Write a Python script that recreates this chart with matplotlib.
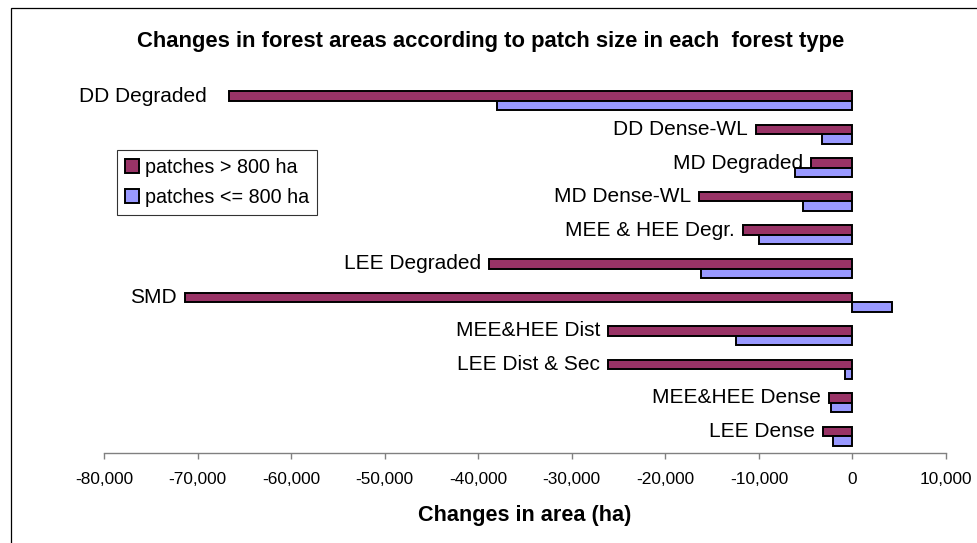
import matplotlib
matplotlib.use("Agg")
import matplotlib.pyplot as plt
import numpy as np
from matplotlib.patches import Rectangle
from matplotlib.ticker import FuncFormatter

categories = ["DD Degraded", "DD Dense-WL", "MD Degraded", "MD Dense-WL",
              "MEE & HEE Degr.", "LEE Degraded", "SMD", "MEE&HEE Dist",
              "LEE Dist & Sec", "MEE&HEE Dense", "LEE Dense"]
large_patches = [-66600, -10300, -4400, -16400, -11700, -38800, -71300,
                 -26100, -26100, -2500, -3100]
small_patches = [-38000, -3250, -6150, -5300, -10000, -16200, 4270,
                 -12400, -750, -2300, -2100]
series_names = ["patches > 800 ha", "patches <= 800 ha"]
x_ticks = [-80000, -70000, -60000, -50000, -40000, -30000, -20000, -10000, 0, 10000]

plt.rcParams['font.family'] = ['Liberation Sans', 'DejaVu Sans']

W, H = 977, 543
fig = plt.figure(figsize=(W / 100, H / 100), dpi=100)
fig.patch.set_facecolor("white")

# outer chart border
fig.patches.append(Rectangle((11 / W, -0.1), 1.2, (H - 8) / H + 0.1,
                             transform=fig.transFigure, fill=False,
                             edgecolor="black", linewidth=0.9))

ax = fig.add_axes([104 / W, 1 - 453 / H, (946 - 104) / W, (453 - 84) / H])

y = np.arange(len(categories))
h = 0.283
c_dark = "#993366"
c_blue = "#9999FF"
ax.barh(y - h / 2, large_patches, height=h, color=c_dark, edgecolor="black",
        linewidth=1.4, label=series_names[0])
ax.barh(y + h / 2, small_patches, height=h, color=c_blue, edgecolor="black",
        linewidth=1.4, label=series_names[1])

ax.set_xlim(-80000, 10000)
ax.set_ylim(len(categories) - 0.5, -0.5)
ax.set_xticks(x_ticks)
ax.xaxis.set_major_formatter(FuncFormatter(lambda v, p: f"{int(v):,}"))
ax.set_yticks([])
for s in ["left", "top", "right"]:
    ax.spines[s].set_visible(False)
ax.spines["bottom"].set_color("#808080")
ax.spines["bottom"].set_linewidth(1.0)
ax.tick_params(axis="x", direction="out", length=4, width=1.0, color="#808080",
               labelsize=12.4, pad=10)

label_gap = [16, 6, 6, 6, 6, 6, 6, 6, 6, 6, 6]
for i, (cat, v) in enumerate(zip(categories, large_patches)):
    ax.annotate(cat, xy=(min(v, 0), i - h / 2), xytext=(-label_gap[i], 0),
                textcoords="offset points", ha="right", va="center",
                fontsize=15)

ax.set_xlabel("Changes in area (ha)", fontsize=15.6, fontweight="bold", labelpad=13)
fig.text(491 / W, 1 - 42 / H,
         "Changes in forest areas according to patch size in each  forest type",
         ha="center", va="center", fontsize=15.8, fontweight="bold")

leg = ax.legend(loc="upper left", bbox_to_anchor=(117 / W, 1 - 150 / H),
                bbox_transform=fig.transFigure, fontsize=14.2, frameon=True,
                fancybox=False, handlelength=0.7, handleheight=0.7,
                handletextpad=0.3, borderpad=0.4, labelspacing=0.55,
                borderaxespad=0)
leg.get_frame().set_edgecolor("black")
leg.get_frame().set_linewidth(0.8)

fig.savefig("out.png", dpi=100, facecolor="white")
